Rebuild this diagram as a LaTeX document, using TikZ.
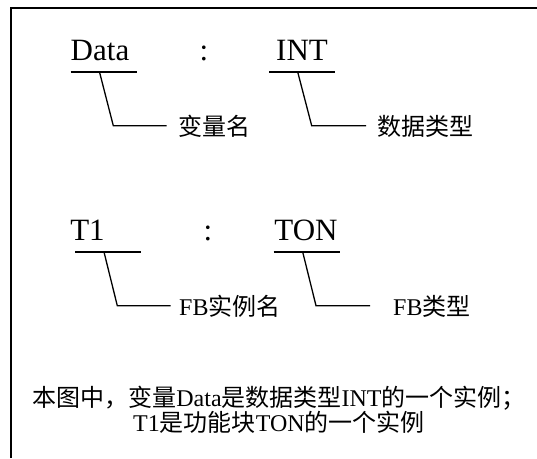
\documentclass[tikz,border=0pt]{standalone}
\usepackage{fontspec}
\setmainfont{Liberation Serif}
\newfontfamily\cjk{Noto Sans CJK SC}
\tikzset{
  big/.style={font=\fontsize{31}{33}\selectfont, inner sep=0pt, anchor=base},
  lab/.style={font=\fontsize{24}{26}\selectfont, inner sep=0pt, anchor=west},
  lead/.style={line width=1.3pt},
  uline/.style={line width=1.3pt}
}
\begin{document}
\begin{tikzpicture}[x=1pt,y=1pt]
\useasboundingbox (0,0) rectangle (537,-458);
\draw[line width=1.6pt] (11,-458) -- (11,-8) -- (537,-8);
% first row
\node[big] (data) at (100,-60) {Data};
\node[big] (c1) at (204,-60) {:};
\node[big] (int) at (302,-60) {INT};
\coordinate (du1) at (70.5,-72); \coordinate (du2) at (137,-72);
\coordinate (iu1) at (269,-72); \coordinate (iu2) at (335,-72);
\draw[uline] (du1) -- (du2);
\draw[uline] (iu1) -- (iu2);
\node[lab] (vn) at (178,-126) {\cjk 变量名};
\node[lab] (dt) at (377,-126) {\cjk 数据类型};
\coordinate (dl0) at (99.5,-72); \coordinate (dl1) at (113.3,-125.7); \coordinate (dl2) at (166.7,-125.7);
\coordinate (il0) at (297.7,-72); \coordinate (il1) at (311.7,-125.7); \coordinate (il2) at (366,-125.7);
\draw[lead] (dl0) -- (dl1) -- (dl2);
\draw[lead] (il0) -- (il1) -- (il2);
% second row
\node[big] (t1) at (87.5,-240) {T1};
\node[big] (c2) at (208,-240) {:};
\node[big] (ton) at (306,-240) {TON};
\coordinate (tu1) at (75,-252); \coordinate (tu2) at (141,-252);
\coordinate (ou1) at (273.5,-252); \coordinate (ou2) at (340,-252);
\draw[uline] (tu1) -- (tu2);
\draw[uline] (ou1) -- (ou2);
\node[lab] (fbi) at (179,-306) {FB{\cjk 实例名}};
\node[lab] (fbt) at (393,-306) {FB{\cjk 类型}};
\coordinate (tl0) at (104,-252); \coordinate (tl1) at (117.3,-305.7); \coordinate (tl2) at (170.7,-305.7);
\coordinate (ol0) at (302.7,-252); \coordinate (ol1) at (316,-305.7); \coordinate (ol2) at (370,-305.7);
\draw[lead] (tl0) -- (tl1) -- (tl2);
\draw[lead] (ol0) -- (ol1) -- (ol2);
% note
\node[font=\fontsize{24}{25}\selectfont, inner sep=0pt, align=center] (note) at (279,-410)
  {{\cjk 本图中，变量}Data{\cjk 是数据类型}INT{\cjk 的一个实例；}\\T1{\cjk 是功能块}TON{\cjk 的一个实例}};
\end{tikzpicture}
\end{document}
